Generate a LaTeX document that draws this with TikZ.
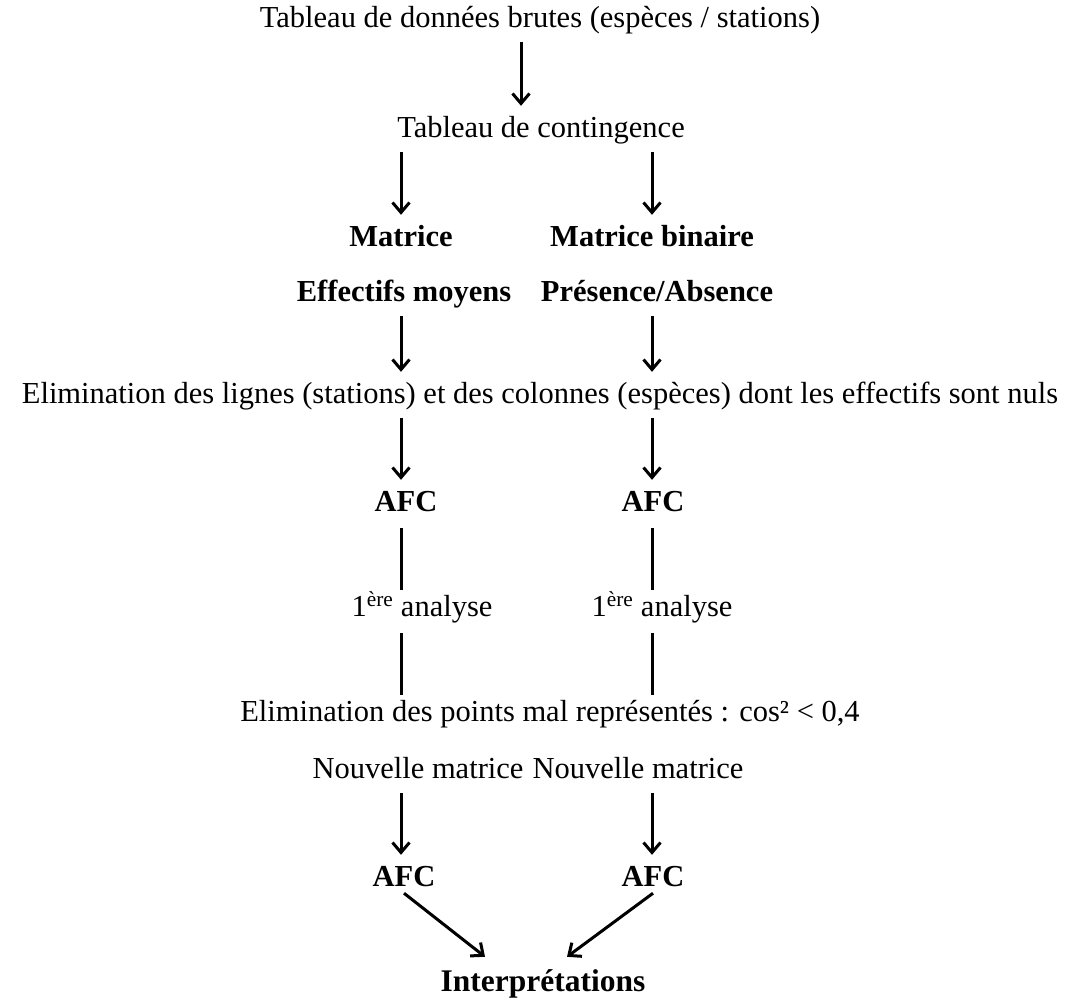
\documentclass[tikz,border=0pt]{standalone}
\usepackage{fontspec}
\setmainfont{Liberation Serif}
\usetikzlibrary{arrows.meta, positioning}
\tikzstyle{txt} = [inner sep=0pt, text height=21pt, text depth=7pt, font=\fontsize{30.5}{36}\selectfont]
\tikzstyle{btxt} = [txt, font=\fontsize{30.5}{36}\selectfont\bfseries]
\tikzstyle{line} = [draw, line width=3pt, -{Straight Barb[length=10pt,width=17pt]}, shorten <=8pt, shorten >=10pt]
\tikzstyle{stem} = [draw, line width=3pt, shorten <=10pt, shorten >=5pt]

\begin{document}
\begin{tikzpicture}[x=1pt, y=-1pt]
	\useasboundingbox (0,0) rectangle (1084,1005);
	\node [txt] (raw) at (540,20) {Tableau de données brutes (espèces / stations)};
	\node [txt] (cont) at (541,130) {Tableau de contingence};
	\node [btxt] (matL) at (401,239) {Matrice};
	\node [btxt] (matR) at (652,239) {Matrice binaire};
	\node [btxt] (effL) at (404,294) {Effectifs moyens};
	\node [btxt] (effR) at (657,294) {Présence/Absence};
	\node [txt] (elim) at (540,396) {Elimination des lignes (stations) et des colonnes (espèces) dont les effectifs sont nuls};
	\node [btxt] (afcL) at (406,504) {AFC};
	\node [btxt] (afcR) at (653,504) {AFC};
	\node [txt] (anaL) at (422,609) {1\textsuperscript{ère} analyse};
	\node [txt] (anaR) at (662,609) {1\textsuperscript{ère} analyse};
	\node [txt] (elimpts) at (550,714) {Elimination des points mal représentés : cos² < 0,4};
	\node [txt] (newL) at (418,771) {Nouvelle matrice};
	\node [txt] (newR) at (638,771) {Nouvelle matrice};
	\node [btxt] (afcL2) at (404,879) {AFC};
	\node [btxt] (afcR2) at (653,879) {AFC};
	\node [btxt, text height=22pt, text depth=8pt, font=\fontsize{31.5}{38}\selectfont\bfseries] (interp) at (543,984) {Interprétations};

	\path [line] ([xshift=-19pt]raw.south) -- ([xshift=-20pt]cont.north);
	\path [line] (cont.south -| matL) -- (matL.north);
	\path [line] (cont.south -| matR) -- (matR.north);
	\path [line] (effL.south -| matL) -- (elim.north -| matL);
	\path [line] (effR.south -| matR) -- (elim.north -| matR);
	\path [line] (elim.south -| matL) -- (afcL.north -| matL);
	\path [line] (elim.south -| matR) -- (afcR.north -| matR);
	\path [stem] (afcL.south -| matL) -- (anaL.north -| matL);
	\path [stem] (afcR.south -| matR) -- (anaR.north -| matR);
	\path [stem] (anaL.south -| matL) -- (elimpts.north -| matL);
	\path [stem] (anaR.south -| matR) -- (elimpts.north -| matR);
	\path [line] (newL.south -| matL) -- (afcL2.north -| matL);
	\path [line] (newR.south -| matR) -- (afcR2.north -| matR);
	\path [line, shorten <=0pt, shorten >=0pt] (afcL2.south) -- ([xshift=-58pt, yshift=12pt]interp.north);
	\path [line, shorten <=0pt, shorten >=0pt] (afcR2.south) -- ([xshift=24pt, yshift=12pt]interp.north);
\end{tikzpicture}
\end{document}
